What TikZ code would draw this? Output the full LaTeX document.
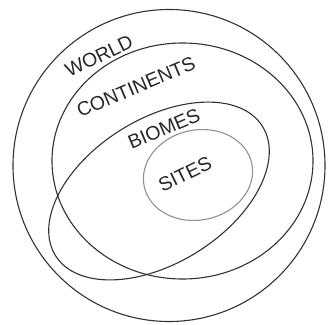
\documentclass[tikz,border=0pt]{standalone}
\usepackage{fontspec}
\setmainfont{Liberation Sans}
\definecolor{ringgray}{RGB}{50,50,50}
\definecolor{sitegray}{RGB}{145,145,145}
\tikzset{
  ring/.style={draw=ringgray, line width=1.1pt},
  ringlabel/.style={font=\fontsize{19.5}{22}\selectfont, text=black!85, inner sep=0pt}
}

\begin{document}
\begin{tikzpicture}[x=1pt, y=-1pt]
  \useasboundingbox (0,0) rectangle (329,324);

  % World
  \draw[ring] (169,165.5) circle (156);
  % Continents
  \draw[ring] (182.5,161) ellipse [x radius=130.5, y radius=118];
  % Biomes (tilted)
  \draw[ring, rotate around={32:(159,191)}]
    (159,191) ellipse [x radius=122, y radius=72];
  % Sites
  \draw[ring, draw=sitegray, rotate around={12:(198,175)}]
    (198,175) ellipse [x radius=55, y radius=45];

  % Labels
  \node[ringlabel, rotate=26] (world) at (99,56) {WORLD};
  \node[ringlabel, rotate=23] (continents) at (136,87) {CONTINENTS};
  \node[ringlabel, rotate=23] (biomes) at (164,129) {BIOMES};
  \node[ringlabel, rotate=26] (sites) at (185,174) {SITES};

\end{tikzpicture}
\end{document}
